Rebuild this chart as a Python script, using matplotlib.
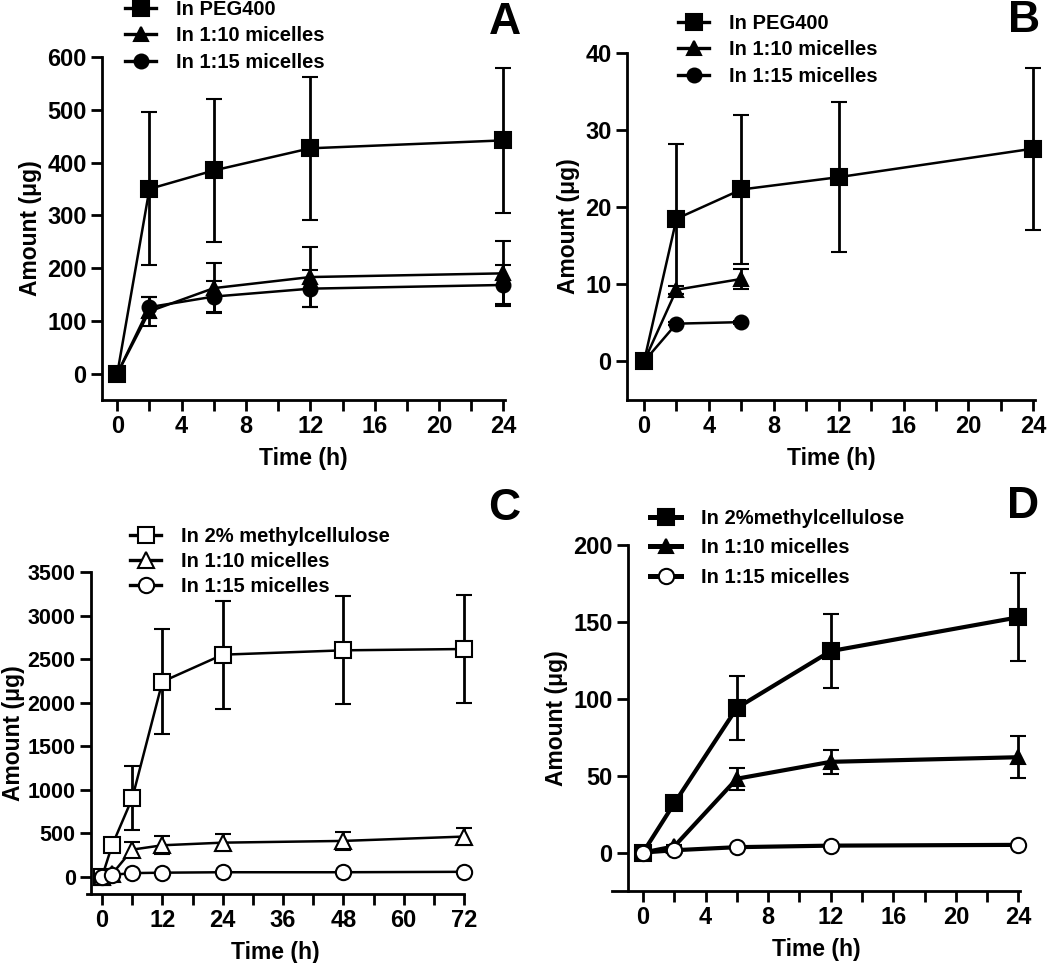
import matplotlib
matplotlib.use('Agg')
import matplotlib.pyplot as plt
from matplotlib.ticker import MultipleLocator
from matplotlib.lines import Line2D

plt.rcParams['font.family'] = ['Liberation Sans', 'DejaVu Sans']
plt.rcParams['font.weight'] = 'bold'
plt.rcParams['axes.labelweight'] = 'bold'

# ---- data ----
t_a = [0, 2, 6, 12, 24]
a_peg = [0, 350, 385, 427, 442]
a_peg_sd = [0, 145, 135, 135, 138]
a_m10 = [0, 118, 162, 183, 190]
a_m10_sd = [0, 28, 47, 57, 62]
a_m15 = [0, 126, 146, 161, 168]
a_m15_sd = [0, 20, 30, 35, 37]

t_b = [0, 2, 6, 12, 24]
t_b_mic = [0, 2, 6]
b_peg = [0, 18.5, 22.3, 23.9, 27.6]
b_peg_sd = [0, 9.7, 9.7, 9.7, 10.5]
b_m10 = [0, 9.3, 10.7]
b_m10_sd = [0, 0.5, 1.3]
b_m15 = [0, 4.9, 5.1]
b_m15_sd = [0, 0.2, 0.2]

t_c = [0, 2, 6, 12, 24, 48, 72]
c_mc = [0, 360, 900, 2240, 2550, 2600, 2615]
c_mc_sd = [0, 0, 370, 600, 620, 620, 625]
c_m10 = [0, 30, 310, 360, 390, 410, 460]
c_m10_sd = [0, 0, 90, 105, 100, 100, 100]
c_m15 = [0, 20, 40, 45, 50, 50, 55]
c_m15_sd = [0, 0, 0, 0, 0, 0, 0]

t_d = [0, 2, 6, 12, 24]
d_mc = [0, 32, 94, 131, 153]
d_mc_sd = [0, 4, 20.5, 24, 28.5]
d_m10 = [0, 4, 48, 59, 62]
d_m10_sd = [0, 1, 7, 8, 13.5]
d_m15 = [0, 1.5, 3.5, 4.5, 5]
d_m15_sd = [0, 0.3, 0.5, 0.5, 0.5]

labels_ab = ['In PEG400', 'In 1:10 micelles', 'In 1:15 micelles']
labels_c = ['In 2% methylcellulose', 'In 1:10 micelles', 'In 1:15 micelles']
labels_d = ['In 2%methylcellulose', 'In 1:10 micelles', 'In 1:15 micelles']

fig = plt.figure(figsize=(10.5, 9.63), dpi=100)
W, H = 1050, 963


def add_ax(l, r, t, b):
    return fig.add_axes([l / W, 1 - b / H, (r - l) / W, (b - t) / H])


def style(ax, xlim, ylim, xmaj, xmin, ymaj, yspine=None, tsize=17, ylpad=4):
    ax.set_xlim(*xlim)
    ax.set_ylim(*ylim)
    ax.xaxis.set_major_locator(MultipleLocator(xmaj))
    ax.xaxis.set_minor_locator(MultipleLocator(xmin))
    ax.yaxis.set_major_locator(MultipleLocator(ymaj))
    for s in ['top', 'right']:
        ax.spines[s].set_visible(False)
    for s in ['left', 'bottom']:
        ax.spines[s].set_linewidth(2)
    if yspine is not None:
        ax.spines['left'].set_position(('data', yspine))
    ax.tick_params(which='both', direction='out', width=2, length=8, pad=3)
    ax.tick_params(axis='x', labelsize=17)
    ax.tick_params(axis='y', labelsize=tsize)
    ax.set_xlabel('Time (h)', fontsize=16.5, labelpad=6)
    ax.set_ylabel('Amount (\u03bcg)', fontsize=16.5, labelpad=ylpad)


def series(ax, x, y, e, marker, ms, face, lw):
    ax.errorbar(x, y, yerr=e, color='black', marker=marker, ms=ms,
                mfc=face, mec='black', mew=1.5, lw=lw, elinewidth=2,
                capsize=6, capthick=2, clip_on=False)
    return Line2D([], [], color='black', marker=marker, ms=ms, mfc=face,
                  mec='black', mew=1.5, lw=lw + 0.6)


def legend(ax, handles, labels, x, y, spacing):
    ax.legend(handles, labels, loc='upper left', bbox_to_anchor=(x / W, 1 - y / H),
              bbox_transform=fig.transFigure, frameon=False, fontsize=14.5,
              handlelength=1.55, handletextpad=1.0, labelspacing=spacing,
              borderpad=0, borderaxespad=0)


def letter(x, y, s):
    fig.text(x / W, 1 - y / H, s, fontsize=32, fontweight='bold', ha='center', va='center')


# ---- A ----
axA = add_ax(102, 505, 57, 400)
style(axA, (-0.95, 24.1), (-50, 600), 4, 2, 100)
h = [series(axA, t_a, a_peg, a_peg_sd, 's', 11, 'black', 1.8),
     series(axA, t_a, a_m10, a_m10_sd, '^', 10, 'black', 1.8),
     series(axA, t_a, a_m15, a_m15_sd, 'o', 10, 'black', 1.8)]
legend(axA, h, labels_ab, 125, 0, 0.37)
letter(505, 22, 'A')

# ---- B ----
axB = add_ax(627, 1035, 53, 400)
style(axB, (-1.05, 24.1), (-5, 40), 4, 2, 10)
h = [series(axB, t_b, b_peg, b_peg_sd, 's', 11, 'black', 1.8),
     series(axB, t_b_mic, b_m10, b_m10_sd, '^', 10, 'black', 1.8),
     series(axB, t_b_mic, b_m15, b_m15_sd, 'o', 10, 'black', 1.8)]
legend(axB, h, labels_ab, 678, 14, 0.37)
letter(1024, 21, 'B')

# ---- C ----
axC = add_ax(87, 464, 572, 894)
style(axC, (-3.0, 72), (-200, 3500), 12, 6, 500, yspine=-2.2, tsize=15.5, ylpad=2)
h = [series(axC, t_c, c_mc, c_mc_sd, 's', 11, 'white', 1.8),
     series(axC, t_c, c_m10, c_m10_sd, '^', 11, 'white', 1.8),
     series(axC, t_c, c_m15, c_m15_sd, 'o', 11, 'white', 1.8)]
legend(axC, h, labels_c, 130, 527, 0.3)
letter(504, 508, 'C')

# ---- D ----
axD = add_ax(612, 1020, 545, 891)
style(axD, (-1.98, 24.1), (-25, 200), 4, 2, 50, yspine=-0.96)
h = [series(axD, t_d, d_mc, d_mc_sd, 's', 11, 'black', 3),
     series(axD, t_d, d_m10, d_m10_sd, '^', 10, 'black', 3),
     series(axD, t_d, d_m15, d_m15_sd, 'o', 11, 'white', 3)]
legend(axD, h, labels_d, 650, 509, 0.52)
letter(1023, 507, 'D')

fig.savefig('out.png', dpi=100)
